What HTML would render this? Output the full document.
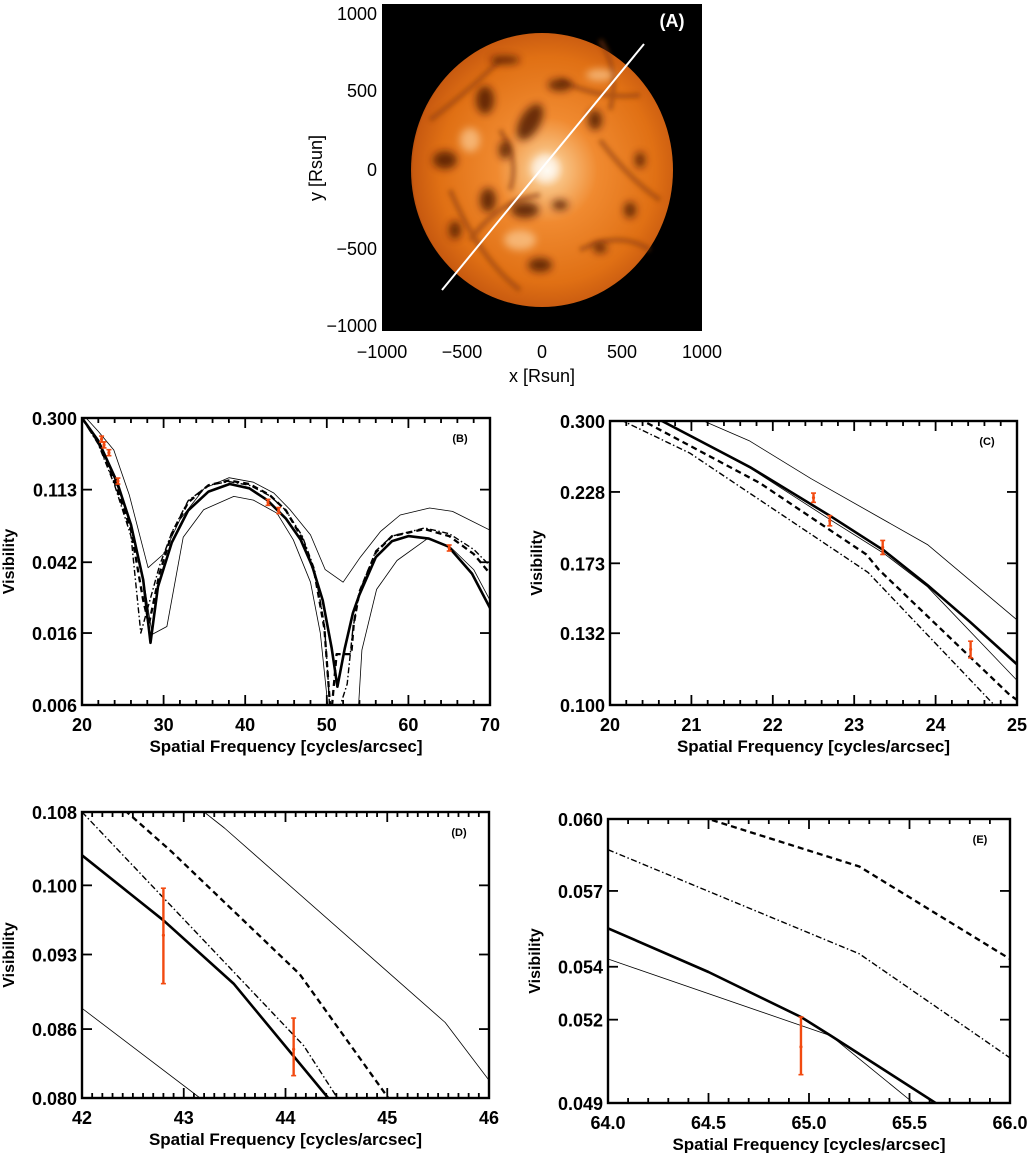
<!DOCTYPE html>
<html><head><meta charset="utf-8"><style>
html,body{margin:0;padding:0;background:#fff;}
svg{display:block;}
text{font-family:"Liberation Sans",sans-serif;}
</style></head><body>
<svg id="fig" width="1028" height="1153" viewBox="0 0 1028 1153" xmlns="http://www.w3.org/2000/svg">
<defs>
<radialGradient id="starGrad" cx="0.52" cy="0.5" r="0.55">
<stop offset="0" stop-color="#fff4e0"/>
<stop offset="0.12" stop-color="#f8c080"/>
<stop offset="0.35" stop-color="#f08a30"/>
<stop offset="0.75" stop-color="#e07014"/>
<stop offset="0.93" stop-color="#c85a10"/>
<stop offset="1" stop-color="#7a2a05"/>
</radialGradient>
<filter id="blur3"><feGaussianBlur stdDeviation="4"/></filter>
<filter id="blur2"><feGaussianBlur stdDeviation="2.5"/></filter>
</defs>
<g id="panelA">
<rect x="382" y="4" width="320" height="327" fill="#000"/>
<ellipse cx="542" cy="170" rx="131" ry="137" fill="url(#starGrad)"/>
<g filter="url(#blur2)" fill="none" stroke="#8a3a08" stroke-width="5" opacity="0.55">
<path d="M430 120 Q470 90 500 60 M470 240 Q500 200 540 195 M560 80 Q600 100 640 95 M600 140 Q630 180 660 200 M450 190 Q480 260 520 290 M580 250 Q620 230 650 250 M500 130 Q520 160 510 190 M600 40 Q620 70 610 110"/>
</g>
<g filter="url(#blur3)" fill="#4a1200" opacity="0.8">
<ellipse cx="445" cy="160" rx="12" ry="9"/><ellipse cx="485" cy="100" rx="9" ry="14"/>
<ellipse cx="530" cy="122" rx="10" ry="20" transform="rotate(30 530 122)"/>
<ellipse cx="488" cy="200" rx="8" ry="12"/><ellipse cx="525" cy="210" rx="14" ry="8"/>
<ellipse cx="595" cy="120" rx="7" ry="10"/><ellipse cx="630" cy="210" rx="6" ry="8"/>
<ellipse cx="540" cy="265" rx="12" ry="7"/><ellipse cx="505" cy="60" rx="15" ry="4"/>
<ellipse cx="600" cy="248" rx="7" ry="5"/><ellipse cx="455" cy="230" rx="6" ry="9"/>
<ellipse cx="640" cy="160" rx="5" ry="8"/><ellipse cx="560" cy="85" rx="12" ry="6"/>
<ellipse cx="560" cy="205" rx="8" ry="5"/><ellipse cx="505" cy="150" rx="6" ry="9"/>
</g>
<g filter="url(#blur3)" fill="#ffd9a8" opacity="0.6">
<ellipse cx="545" cy="168" rx="14" ry="14" fill="#fff"/><ellipse cx="600" cy="75" rx="14" ry="6"/>
<ellipse cx="520" cy="240" rx="16" ry="10"/><ellipse cx="470" cy="140" rx="10" ry="12"/>
</g>
<line x1="442" y1="290" x2="644" y2="44" stroke="#fff" stroke-width="2"/>
<text x="672" y="27" fill="#fff" font-size="18" font-weight="bold" text-anchor="middle">(A)</text>
<g font-size="18" fill="#000" text-anchor="end">
<text x="377" y="20">1000</text><text x="377" y="97">500</text><text x="377" y="176">0</text><text x="377" y="255">−500</text><text x="377" y="332">−1000</text>
</g>
<g font-size="18" fill="#000" text-anchor="middle">
<text x="382" y="358">−1000</text><text x="462" y="358">−500</text><text x="542" y="358">0</text><text x="622" y="358">500</text><text x="702" y="358">1000</text>
</g>
<text x="542" y="382" font-size="18" text-anchor="middle">x [Rsun]</text>
<text transform="translate(322,168) rotate(-90)" font-size="18" text-anchor="middle">y [Rsun]</text>
</g>
</svg>
<script>
// ---------- Panel B data (20-70) ----------
const bThickX = [20,22,24.3,26,27.5,28.4,29.3,31,33,35.5,38.1,40.5,42.7,45,46.8,48.2,49.5,50.6,51.3,52.2,53.2,54,56,58,60,62.5,64.9,67.8,70];
const bThickY = [0.30,0.22,0.125,0.07,0.033,0.014,0.03,0.055,0.085,0.11,0.122,0.115,0.098,0.076,0.057,0.04,0.025,0.013,0.0077,0.013,0.021,0.027,0.045,0.056,0.060,0.058,0.052,0.036,0.0225];
const bDashX = [20,22,24,26,27.5,28.2,29.5,31,33,35.5,38,40.5,43,45,47,48.5,49.7,50.3,50.5,51.2,53,53.3,54,56,58,62,65,68,70];
const bDashY = [0.30,0.215,0.125,0.065,0.025,0.018,0.036,0.062,0.095,0.12,0.128,0.122,0.105,0.085,0.058,0.036,0.017,0.007,0.005,0.012,0.012,0.018,0.028,0.048,0.060,0.066,0.060,0.047,0.036];
const bDotX = [20,22,24,26,27.2,28,29.5,31,33,35.5,38,40.5,43,45,47,48.5,49.7,50.2,50.5,52.5,53.2,54,56,58,62,65,68,70];
const bDotY = [0.30,0.21,0.12,0.06,0.016,0.022,0.04,0.063,0.097,0.12,0.126,0.12,0.104,0.085,0.06,0.038,0.018,0.008,0.004,0.008,0.017,0.028,0.049,0.060,0.067,0.062,0.050,0.040];
const bThinUpX = [20.5,22,23.9,25.8,28.1,30,32,35,38,41,43.5,45.5,48,49.8,52,54.1,56.6,59,62.6,65.4,70];
const bThinUpY = [0.30,0.25,0.194,0.105,0.039,0.047,0.075,0.115,0.133,0.125,0.108,0.086,0.061,0.038,0.032,0.045,0.064,0.080,0.088,0.084,0.065];
const bThinLoX = [20,22,24,26,27.5,28.6,30.4,32.4,34.9,38.6,41,43.9,45.9,48,49.2,50.3,53.8,54.3,56.1,58.6,62.3,65.1,68,70];
const bThinLoY = [0.30,0.215,0.13,0.072,0.034,0.0157,0.0175,0.059,0.086,0.103,0.098,0.082,0.057,0.032,0.016,0.005,0.005,0.0127,0.029,0.043,0.0578,0.052,0.038,0.025];
const bObsX = [22.4,22.7,23.3,24.4,42.8,44.1,65.0];
const bObsY = [0.225,0.208,0.187,0.127,0.095,0.085,0.051];
const bYTicks = [0.300,0.113,0.042,0.016,0.006];
const bYLabels = ["0.300","0.113","0.042","0.016","0.006"];
const bXTicks = [20,30,40,50,60,70];
const bXLabels = ["20","30","40","50","60","70"];
// ---------- Panel C data (20-25) ----------
const cThickX = [20.3,20.6,21.72,22.7,23.36,23.9,24.42,25];
const cThickY = [0.315,0.302,0.251,0.208,0.182,0.159,0.138,0.117];
const cThin2X = [20.3,20.6,21.72,22.7,23.36,23.9,25];
const cThin2Y = [0.315,0.302,0.250,0.205,0.180,0.158,0.110];
const cThinUpX = [21.0,21.15,21.71,22.47,23.9,25];
const cThinUpY = [0.31,0.300,0.278,0.240,0.186,0.139];
const cDashX = [20,20.47,21.84,23.15,23.3,24.91,25];
const cDashY = [0.315,0.297,0.236,0.179,0.169,0.104,0.102];
const cDotX = [20,20.16,20.98,23.17,24.72,24.9];
const cDotY = [0.31,0.30,0.265,0.167,0.100,0.097];
const cObsX = [22.50,22.70,23.35,24.43];
const cObsY = [0.223,0.204,0.184,0.124];
const cObsLo = [0.219,0.200,0.179,0.120];
const cObsHi = [0.227,0.208,0.189,0.128];
const cYTicks = [0.300,0.228,0.173,0.132,0.100];
const cYLabels = ["0.300","0.228","0.173","0.132","0.100"];
const cXTicks = [20,21,22,23,24,25];
const cXLabels = ["20","21","22","23","24","25"];
// ---------- Panel D data (42-46) ----------
const dThickX = [42,42.8,43.49,44.42,44.6];
const dThickY = [0.1032,0.0964,0.0902,0.0800,0.078];
const dDotX = [42,42.8,44.18,44.51,44.7];
const dDotY = [0.108,0.0987,0.0845,0.0800,0.078];
const dDashX = [42.3,42.44,42.88,44.14,45.01,45.2];
const dDashY = [0.110,0.108,0.1036,0.0911,0.0800,0.078];
const dThinUpX = [43.0,43.2,43.4,45.57,46];
const dThinUpY = [0.110,0.108,0.1062,0.0866,0.0815];
const dThinLoX = [42,43.16,43.4];
const dThinLoY = [0.0879,0.0800,0.078];
const dObsX = [42.8,44.08];
const dObsY = [0.0949,0.0842];
const dObsLo = [0.0902,0.0819];
const dObsHi = [0.0997,0.0870];
const dYTicks = [0.108,0.100,0.093,0.086,0.080];
const dYLabels = ["0.108","0.100","0.093","0.086","0.080"];
const dXTicks = [42,43,44,45,46];
const dXLabels = ["42","43","44","45","46"];
// ---------- Panel E data (64-66) ----------
const eThickX = [64,64.5,64.96,65.11,65.63,65.8];
const eThickY = [0.0555,0.0538,0.0521,0.0514,0.0490,0.0483];
const eThinX = [64,65.11,65.52,65.7];
const eThinY = [0.0543,0.0514,0.0490,0.0480];
const eDotX = [64,65.25,66];
const eDotY = [0.0587,0.0545,0.0506];
const eDashX = [64.3,64.5,65.25,66];
const eDashY = [0.0610,0.0600,0.0580,0.0543];
const eObsX = [64.96];
const eObsY = [0.0510];
const eObsLo = [0.0500];
const eObsHi = [0.0521];
const eYTicks = [0.060,0.057,0.054,0.052,0.049];
const eYLabels = ["0.060","0.057","0.054","0.052","0.049"];
const eXTicks = [64.0,64.5,65.0,65.5,66.0];
const eXLabels = ["64.0","64.5","65.0","65.5","66.0"];

const NS = "http://www.w3.org/2000/svg";
const svg = document.getElementById("fig");
function mk(tag, attrs, parent){
  const e = document.createElementNS(NS, tag);
  for (const k in attrs) e.setAttribute(k, attrs[k]);
  (parent||svg).appendChild(e);
  return e;
}
const STYLES = {
  thick:{"stroke-width":2.6},
  thin:{"stroke-width":0.8},
  dash:{"stroke-width":2.3,"stroke-dasharray":"6,4"},
  dot:{"stroke-width":1.4,"stroke-dasharray":"6,2.5,1.5,2.5"}
};
function panel(p){
  const g = mk("g", {});
  
  
  const L = p.x0, R = p.x1, T = p.y0, B = p.y1;
  const sx = v => L + (v - p.xmin) / (p.xmax - p.xmin) * (R - L);
  const lmax = Math.log(p.ymax), lmin = Math.log(p.ymin);
  const sy = v => T + (lmax - Math.log(v)) / (lmax - lmin) * (B - T);
  const cid = "clip" + p.id;
  const cp = mk("clipPath", {id: cid}, g);
  mk("rect", {x: L, y: T, width: R - L, height: B - T}, cp);
  const plot = mk("g", {"clip-path": "url(#" + cid + ")"}, g);
  p.series.forEach(s => {
    let d = "";
    s.x.forEach((xv, i) => { d += (i ? "L" : "M") + sx(xv).toFixed(1) + " " + sy(s.y[i]).toFixed(1); });
    const path = mk("path", Object.assign({d: d, fill: "none", stroke: "#000", "stroke-linejoin": "round"}, STYLES[s.style]), plot);
    
    
  });
  p.obs.x.forEach((xv, i) => {
    const cx = sx(xv);
    const lo = p.obs.lo ? sy(p.obs.lo[i]) : sy(p.obs.y[i]) + 3;
    const hi = p.obs.hi ? sy(p.obs.hi[i]) : sy(p.obs.y[i]) - 3;
    const og = mk("g", {stroke: "#f24a10", "stroke-width": 2.4}, plot);
    
    
    mk("line", {x1: cx, x2: cx, y1: lo, y2: hi}, og);
    mk("line", {x1: cx - 2.5, x2: cx + 2.5, y1: lo, y2: lo, "stroke-width": 1.6}, og);
    mk("line", {x1: cx - 2.5, x2: cx + 2.5, y1: hi, y2: hi, "stroke-width": 1.6}, og);
    mk("circle", {cx: cx, cy: sy(p.obs.y[i]), r: 1.6, fill: "#f24a10", stroke: "none"}, og);
  });
  const fr = mk("rect", {x: L, y: T, width: R - L, height: B - T, fill: "none", stroke: "#000", "stroke-width": 2.4}, g);
  
  
  const xt = mk("g", {stroke: "#000", "stroke-width": 1.8}, g);
  
  
  const nMin = Math.round((p.xmax - p.xmin) / p.minor);
  for (let k = 0; k <= nMin; k++) {
    const v = p.xmin + k * p.minor;
    const major = p.xTicks.some(t => Math.abs(t - v) < 1e-6);
    const len = major ? 10 : 5;
    const X = sx(v);
    mk("line", {x1: X, x2: X, y1: B, y2: B - len}, xt);
    mk("line", {x1: X, x2: X, y1: T, y2: T + len}, xt);
  }
  const xl = mk("g", {"font-size": 18, "font-weight": "bold", "text-anchor": "middle"}, g);
  
  
  p.xTicks.forEach((v, i) => { const t = mk("text", {x: sx(v), y: B + 26}, xl); t.textContent = p.xLabels[i]; });
  const yt = mk("g", {stroke: "#000", "stroke-width": 1.8}, g);
  
  
  const yl = mk("g", {"font-size": 18, "font-weight": "bold", "text-anchor": "end"}, g);
  
  
  p.yTicks.forEach((v, i) => {
    const Y = sy(v);
    mk("line", {x1: L, x2: L + 10, y1: Y, y2: Y}, yt);
    mk("line", {x1: R, x2: R - 10, y1: Y, y2: Y}, yt);
    const t = mk("text", {x: L - 5, y: Y + 7}, yl); t.textContent = p.yLabels[i];
  });
  const xtitle = mk("text", {x: (L + R) / 2, y: B + 47, "font-size": 17, "font-weight": "bold", "text-anchor": "middle"}, g);
  xtitle.textContent = "Spatial Frequency [cycles/arcsec]";
  
  
  const ytitle = mk("text", {transform: "translate(" + (L - 68) + "," + ((T + B) / 2) + ") rotate(-90)", "font-size": 16, "font-weight": "bold", "text-anchor": "middle"}, g);
  ytitle.textContent = "Visibility";
  
  
  const lab = mk("text", {x: R - 30, y: T + 24, "font-size": 11, "font-weight": "bold", "text-anchor": "middle"}, g);
  lab.textContent = p.label;
  
  
}
panel({id:"B", name:"panel-b-visibility-full", label:"(B)", x0:82, x1:490, y0:418, y1:705, xmin:20, xmax:70, ymin:0.006, ymax:0.300, minor:2,
  xTicks:bXTicks, xLabels:bXLabels, yTicks:bYTicks, yLabels:bYLabels,
  series:[{name:"thin-model-upper",style:"thin",x:bThinUpX,y:bThinUpY},{name:"thin-model-lower",style:"thin",x:bThinLoX,y:bThinLoY},
          {name:"dashdot-model",style:"dot",x:bDotX,y:bDotY},{name:"dashed-model",style:"dash",x:bDashX,y:bDashY},{name:"thick-model",style:"thick",x:bThickX,y:bThickY}],
  obs:{x:bObsX,y:bObsY}});
panel({id:"C", name:"panel-c-visibility-20-25", label:"(C)", x0:610, x1:1017, y0:421, y1:705, xmin:20, xmax:25, ymin:0.100, ymax:0.300, minor:0.2,
  xTicks:cXTicks, xLabels:cXLabels, yTicks:cYTicks, yLabels:cYLabels,
  series:[{name:"thin-model-upper",style:"thin",x:cThinUpX,y:cThinUpY},{name:"thin-model-lower",style:"thin",x:cThin2X,y:cThin2Y},
          {name:"dashdot-model",style:"dot",x:cDotX,y:cDotY},{name:"dashed-model",style:"dash",x:cDashX,y:cDashY},{name:"thick-model",style:"thick",x:cThickX,y:cThickY}],
  obs:{x:cObsX,y:cObsY,lo:cObsLo,hi:cObsHi}});
panel({id:"D", name:"panel-d-visibility-42-46", label:"(D)", x0:82, x1:489, y0:812, y1:1098, xmin:42, xmax:46, ymin:0.080, ymax:0.108, minor:0.1,
  xTicks:dXTicks, xLabels:dXLabels, yTicks:dYTicks, yLabels:dYLabels,
  series:[{name:"thin-model-upper",style:"thin",x:dThinUpX,y:dThinUpY},{name:"thin-model-lower",style:"thin",x:dThinLoX,y:dThinLoY},
          {name:"dashdot-model",style:"dot",x:dDotX,y:dDotY},{name:"dashed-model",style:"dash",x:dDashX,y:dDashY},{name:"thick-model",style:"thick",x:dThickX,y:dThickY}],
  obs:{x:dObsX,y:dObsY,lo:dObsLo,hi:dObsHi}});
panel({id:"E", name:"panel-e-visibility-64-66", label:"(E)", x0:608, x1:1010, y0:819, y1:1103, xmin:64, xmax:66, ymin:0.049, ymax:0.060, minor:0.1,
  xTicks:eXTicks, xLabels:eXLabels, yTicks:eYTicks, yLabels:eYLabels,
  series:[{name:"thin-model",style:"thin",x:eThinX,y:eThinY},
          {name:"dashdot-model",style:"dot",x:eDotX,y:eDotY},{name:"dashed-model",style:"dash",x:eDashX,y:eDashY},{name:"thick-model",style:"thick",x:eThickX,y:eThickY}],
  obs:{x:eObsX,y:eObsY,lo:eObsLo,hi:eObsHi}});
</script>
</body></html>
